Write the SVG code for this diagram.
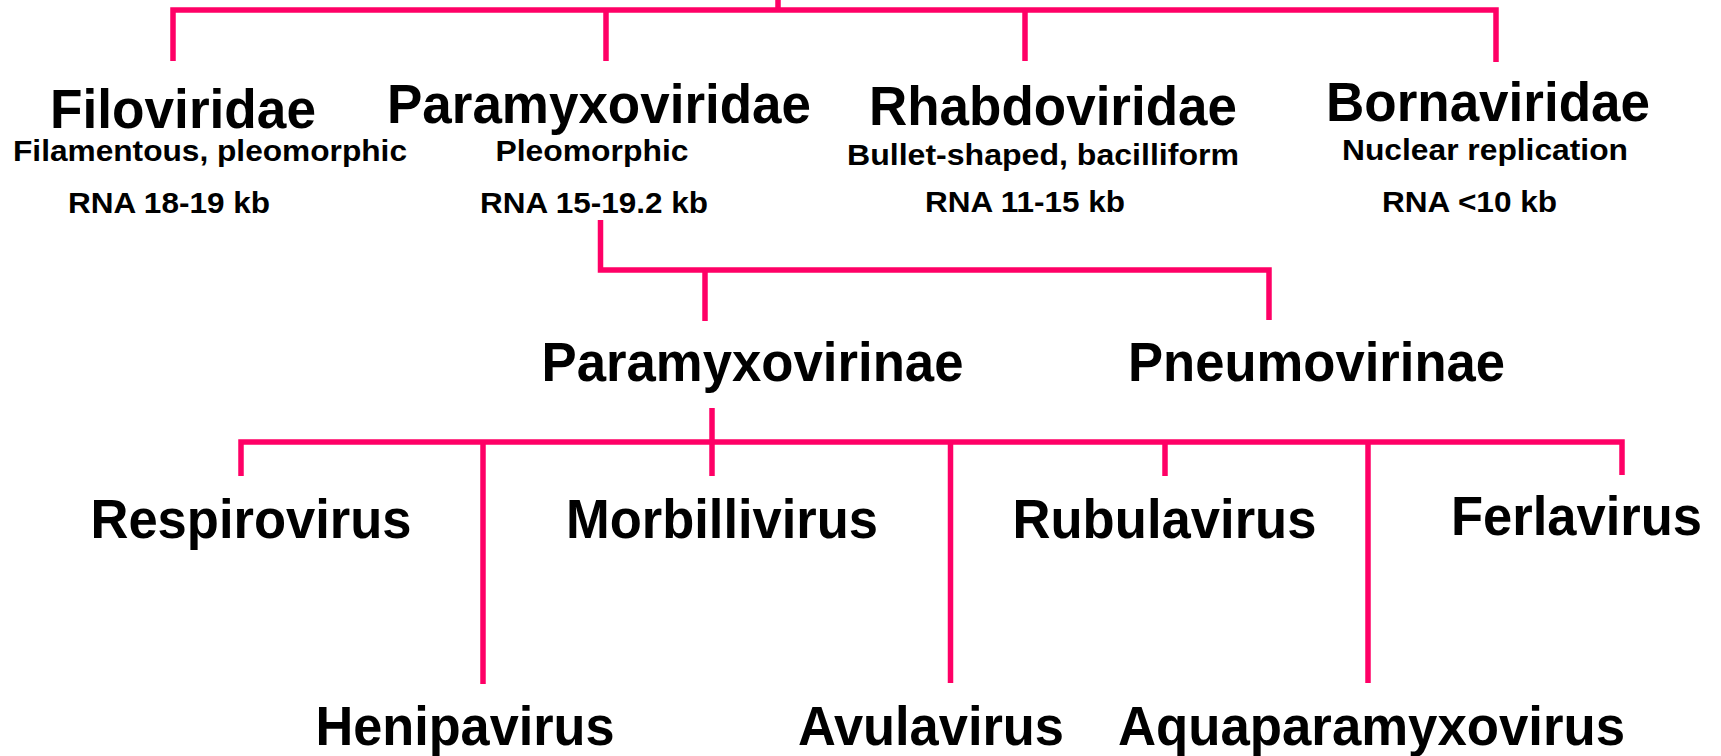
<svg xmlns="http://www.w3.org/2000/svg" width="1721" height="756" viewBox="0 0 1721 756">
<style>
.ln{fill:none;stroke:#FF0066;stroke-width:5.5;stroke-linejoin:miter;stroke-linecap:butt}
text{font-family:"Liberation Sans",Arial,sans-serif;font-weight:bold;fill:#000;text-anchor:middle}
.t1{font-size:55px}
.t2{font-size:29px}
</style>
<rect width="1721" height="756" fill="#fff"/>
<g id="connectors">
<path class="ln" d="M778,0 V10"/>
<path class="ln" d="M173,61 V10 H1496 V62"/>
<path class="ln" d="M606,10 V61"/>
<path class="ln" d="M1025,10 V61"/>
<path class="ln" d="M600.5,220 V270 H1269 V320"/>
<path class="ln" d="M705,270 V321"/>
<path class="ln" d="M241,476 V442 H1622 V475"/>
<path class="ln" d="M712,408 V476"/>
<path class="ln" d="M483,442 V684"/>
<path class="ln" d="M950.5,442 V683"/>
<path class="ln" d="M1165,442 V476"/>
<path class="ln" d="M1368,442 V683"/>
</g>
<g id="filoviridae">
<text class="t1" x="183" y="128" textLength="266" lengthAdjust="spacingAndGlyphs">Filoviridae</text>
<text class="t2" x="210" y="161" textLength="394" lengthAdjust="spacingAndGlyphs">Filamentous, pleomorphic</text>
<text class="t2" x="169" y="213" textLength="202" lengthAdjust="spacingAndGlyphs">RNA 18-19 kb</text>
</g>
<g id="paramyxoviridae">
<text class="t1" x="599" y="123" textLength="424" lengthAdjust="spacingAndGlyphs">Paramyxoviridae</text>
<text class="t2" x="592" y="161" textLength="193" lengthAdjust="spacingAndGlyphs">Pleomorphic</text>
<text class="t2" x="594" y="213" textLength="228" lengthAdjust="spacingAndGlyphs">RNA 15-19.2 kb</text>
</g>
<g id="rhabdoviridae">
<text class="t1" x="1053" y="125" textLength="368" lengthAdjust="spacingAndGlyphs">Rhabdoviridae</text>
<text class="t2" x="1043" y="165" textLength="392" lengthAdjust="spacingAndGlyphs">Bullet-shaped, bacilliform</text>
<text class="t2" x="1025" y="212" textLength="200" lengthAdjust="spacingAndGlyphs">RNA 11-15 kb</text>
</g>
<g id="bornaviridae">
<text class="t1" x="1488" y="121" textLength="324" lengthAdjust="spacingAndGlyphs">Bornaviridae</text>
<text class="t2" x="1485" y="160" textLength="286" lengthAdjust="spacingAndGlyphs">Nuclear replication</text>
<text class="t2" x="1469.5" y="212" textLength="175" lengthAdjust="spacingAndGlyphs">RNA &lt;10 kb</text>
</g>
<g id="paramyxovirinae">
<text class="t1" x="752.5" y="381" textLength="422" lengthAdjust="spacingAndGlyphs">Paramyxovirinae</text>
</g>
<g id="pneumovirinae">
<text class="t1" x="1316.5" y="381" textLength="377" lengthAdjust="spacingAndGlyphs">Pneumovirinae</text>
</g>
<g id="respirovirus">
<text class="t1" x="251" y="538" textLength="321" lengthAdjust="spacingAndGlyphs">Respirovirus</text>
</g>
<g id="morbillivirus">
<text class="t1" x="722" y="538" textLength="312" lengthAdjust="spacingAndGlyphs">Morbillivirus</text>
</g>
<g id="rubulavirus">
<text class="t1" x="1164.5" y="538" textLength="304" lengthAdjust="spacingAndGlyphs">Rubulavirus</text>
</g>
<g id="ferlavirus">
<text class="t1" x="1576.5" y="535" textLength="251" lengthAdjust="spacingAndGlyphs">Ferlavirus</text>
</g>
<g id="henipavirus">
<text class="t1" x="465" y="745" textLength="299" lengthAdjust="spacingAndGlyphs">Henipavirus</text>
</g>
<g id="avulavirus">
<text class="t1" x="931" y="745" textLength="266" lengthAdjust="spacingAndGlyphs">Avulavirus</text>
</g>
<g id="aquaparamyxovirus">
<text class="t1" x="1371.5" y="745" textLength="507" lengthAdjust="spacingAndGlyphs">Aquaparamyxovirus</text>
</g>
</svg>
